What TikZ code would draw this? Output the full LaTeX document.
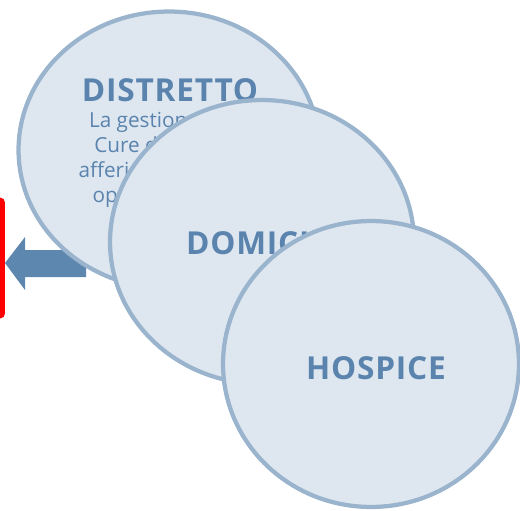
\documentclass[tikz,border=0pt]{standalone}
\usepackage{fontspec}
\setmainfont{Open Sans}
\usetikzlibrary{shapes.geometric}
\definecolor{bordo}{HTML}{9AB4CE}
\definecolor{riempi}{HTML}{DEE7F0}
\definecolor{testo}{HTML}{5A83AD}
\definecolor{freccia}{HTML}{5E87B0}
\tikzset{
  cerchio/.style={ellipse, draw=bordo, fill=riempi, line width=0.085cm, inner sep=0pt},
  titolo/.style={text=testo, font=\fontsize{18}{18}\selectfont\bfseries\addfontfeatures{LetterSpace=2.5}},
  corpo/.style={text=testo, align=center, font=\fontsize{11.8}{14.2}\selectfont}
}
\begin{document}
\begin{tikzpicture}[x=0.02cm, y=-0.02cm]
\useasboundingbox (0,0) rectangle (520,510);

% riquadro rosso
            \draw [red, line width=0.1cm, rounded corners=0.06cm] ( -60, 200 ) rectangle ( 2.5, 316 );

% freccia
            \fill [freccia] ( 86, 250 ) -- ( 25, 250 ) -- ( 25, 237 ) -- ( 5, 263 )
                -- ( 25, 290 ) -- ( 25, 277 ) -- ( 86, 277 ) -- cycle;

% distretto
            \node [cerchio, minimum width=6.02cm, minimum height=5.54cm] (distretto) at ( 169, 150 ) {};
            \node [titolo] (titolodistretto) at ( 170, 90 ) {DISTRETTO};
            \node [corpo, anchor=north] (testodistretto) at ( 170, 106 )
                {La gestione delle\\Cure domiciliari\\afferisce al servizio\\operativo ADI di};

% domicilio
            \node [cerchio, minimum width=6.08cm, minimum height=5.68cm] (domicilio) at ( 262, 242 ) {};
            \node [titolo, anchor=west] (titolodomicilio) at ( 180, 243 ) {DOMICILIO};

% hospice
            \node [cerchio, minimum width=5.92cm, minimum height=5.72cm] (hospice) at ( 371, 364 ) {};
            \node [titolo] (titolohospice) at ( 376, 368 ) {HOSPICE};
\end{tikzpicture}
\end{document}
